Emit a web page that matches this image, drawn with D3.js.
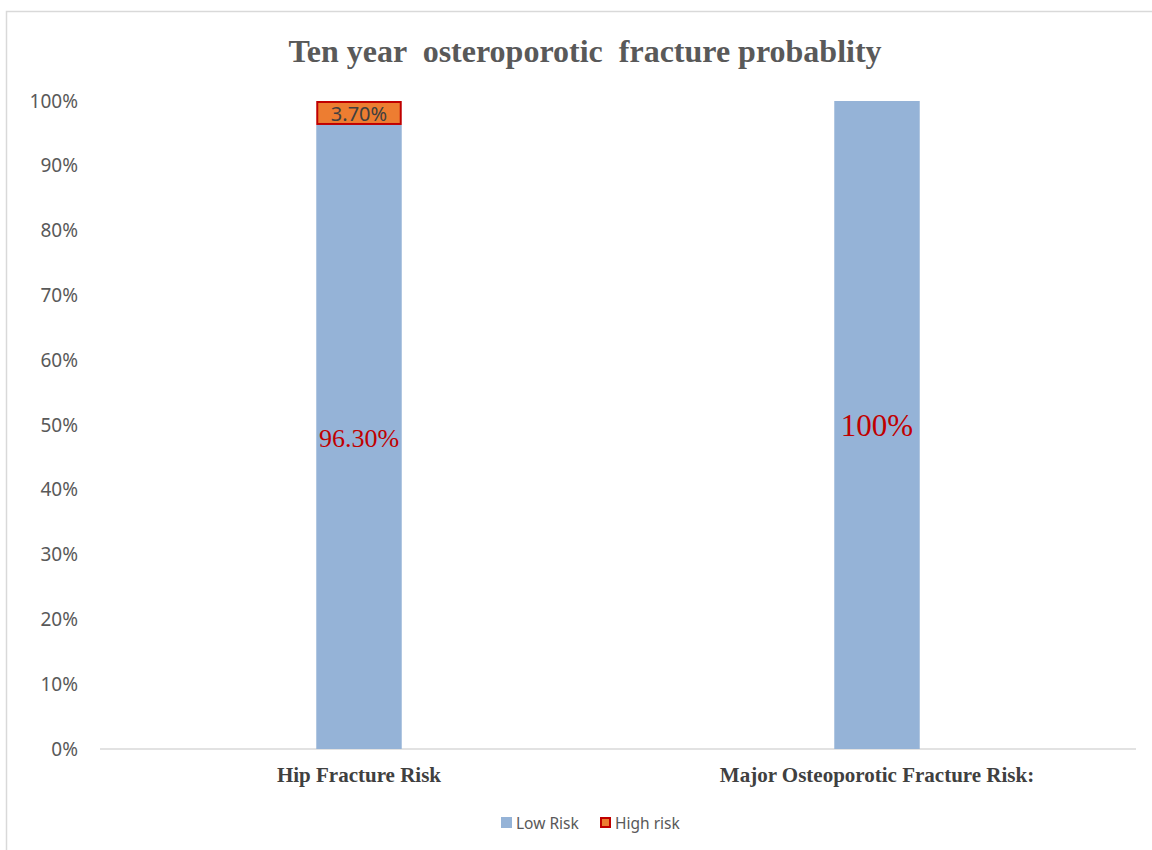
<!DOCTYPE html>
<html>
<head>
<meta charset="utf-8">
<script src="https://cdn.jsdelivr.net/npm/d3@7"></script>
<style>
  html, body { margin: 0; padding: 0; background: #fff; }
  svg { display: block; }
</style>
</head>
<body>
<div id="chart"></div>
<script>
// ── data ───────────────────────────────────────────────
const categories = ['Hip Fracture Risk', 'Major Osteoporotic Fracture Risk:'];
const seriesNames = ['Low Risk', 'High risk'];
const lowRisk  = [96.3, 100];
const highRisk = [3.7, 0];
const lowLabels  = ['96.30%', '100%'];
const highLabels = ['3.70%', ''];
const yTicks = [0, 10, 20, 30, 40, 50, 60, 70, 80, 90, 100];

const W = 1152, H = 850;
const margin = { top: 101, right: 16, bottom: 101, left: 100 };
const width  = W - margin.left - margin.right;
const height = H - margin.top - margin.bottom;

const colors = { low: '#95b3d7', high: '#ed7d31', highStroke: '#c00000' };

const svg = d3.select('#chart').append('svg')
  .attr('width', W).attr('height', H);

// chart border
svg.append('rect')
  .attr('x', 6.5).attr('y', 11.5)
  .attr('width', W + 10).attr('height', H + 10)
  .attr('fill', 'none').attr('stroke', '#d9d9d9').attr('stroke-width', 1.5);

// title
svg.append('text')
  .attr('x', 585).attr('y', 62)
  .attr('text-anchor', 'middle')
  .attr('font-family', '"Liberation Serif", "Times New Roman", serif')
  .attr('font-weight', 'bold')
  .attr('font-size', 32)
  .attr('fill', '#595959')
  .attr('xml:space', 'preserve')
  .text('Ten year  osteroporotic  fracture probablity');

const g = svg.append('g')
  .attr('transform', `translate(${margin.left},${margin.top})`);

// ── scales ─────────────────────────────────────────────
const x = d3.scaleBand().domain(categories).range([0, width]).paddingInner(0).paddingOuter(0);
const y = d3.scaleLinear().domain([0, 100]).range([height, 0]);
const barW = x.bandwidth() * 0.165;

// y axis (labels only)
const yAxis = g.append('g')
  .call(d3.axisLeft(y).tickValues(yTicks).tickFormat(d => d + '%').tickSize(0).tickPadding(22));
yAxis.select('.domain').remove();
yAxis.selectAll('text')
  .attr('font-family', '"Noto Sans", "Open Sans", sans-serif')
  .attr('font-size', 19)
  .attr('fill', '#595959');

// x axis line
g.append('line')
  .attr('x1', 0).attr('x2', width)
  .attr('y1', y(0)).attr('y2', y(0))
  .attr('stroke', '#d9d9d9').attr('stroke-width', 1.5);

// category labels
g.selectAll('.cat')
  .data(categories)
  .enter().append('text')
    .attr('class', 'cat')
    .attr('x', d => x(d) + x.bandwidth() / 2)
    .attr('y', y(0) + 33)
    .attr('text-anchor', 'middle')
    .attr('font-family', '"Liberation Serif", "Times New Roman", serif')
    .attr('font-weight', 'bold')
    .attr('font-size', 21)
    .attr('fill', '#404040')
    .text(d => d);

// ── bars: low risk ─────────────────────────────────────
g.selectAll('.bar-low')
  .data(categories)
  .enter().append('rect')
    .attr('class', 'bar-low')
    .attr('x', d => x(d) + x.bandwidth() / 2 - barW / 2)
    .attr('y', (d, i) => y(lowRisk[i]))
    .attr('width', barW)
    .attr('height', (d, i) => y(0) - y(lowRisk[i]))
    .attr('fill', colors.low);

// ── bars: high risk (stacked) ──────────────────────────
g.selectAll('.bar-high')
  .data(categories.filter((d, i) => highRisk[i] > 0))
  .enter().append('rect')
    .attr('class', 'bar-high')
    .attr('x', d => x(d) + x.bandwidth() / 2 - barW / 2 + 1)
    .attr('y', d => { const i = categories.indexOf(d); return y(lowRisk[i] + highRisk[i]) + 1; })
    .attr('width', barW - 2)
    .attr('height', d => { const i = categories.indexOf(d); return y(lowRisk[i]) - y(lowRisk[i] + highRisk[i]) - 2; })
    .attr('fill', colors.high)
    .attr('stroke', colors.highStroke)
    .attr('stroke-width', 2);

// data labels: low risk
g.selectAll('.lbl-low')
  .data(categories)
  .enter().append('text')
    .attr('class', 'lbl-low')
    .attr('x', d => x(d) + x.bandwidth() / 2)
    .attr('y', (d, i) => (y(0) + y(lowRisk[i])) / 2 + (i === 0 ? 10 : 11))
    .attr('text-anchor', 'middle')
    .attr('font-family', '"Liberation Serif", "Times New Roman", serif')
    .attr('font-size', (d, i) => i === 0 ? 26 : 31)
    .attr('fill', '#c00000')
    .text((d, i) => lowLabels[i]);

// data labels: high risk
g.selectAll('.lbl-high')
  .data(categories.filter((d, i) => highRisk[i] > 0))
  .enter().append('text')
    .attr('class', 'lbl-high')
    .attr('x', d => x(d) + x.bandwidth() / 2)
    .attr('y', d => { const i = categories.indexOf(d); return (y(lowRisk[i]) + y(lowRisk[i] + highRisk[i])) / 2 + 7.5; })
    .attr('text-anchor', 'middle')
    .attr('font-family', '"Noto Sans", "Open Sans", sans-serif')
    .attr('font-size', 20)
    .attr('fill', '#404040')
    .text(d => highLabels[categories.indexOf(d)]);

// ── legend ─────────────────────────────────────────────
const legend = svg.append('g').attr('transform', 'translate(501,817)');
const legX = [0, 99];
seriesNames.forEach((name, i) => {
  const lg = legend.append('g').attr('transform', `translate(${legX[i]},0)`);
  lg.append('rect')
    .attr('x', i === 1 ? 1 : 0).attr('y', i === 1 ? 1 : 0)
    .attr('width', i === 1 ? 9 : 11).attr('height', i === 1 ? 9 : 11)
    .attr('fill', i === 0 ? colors.low : colors.high)
    .attr('stroke', i === 1 ? colors.highStroke : 'none')
    .attr('stroke-width', 2);
  lg.append('text')
    .attr('x', 15).attr('y', 11.5)
    .attr('font-family', '"Noto Sans", "Open Sans", sans-serif')
    .attr('font-size', 15.5)
    .attr('fill', '#595959')
    .text(name);
});
</script>
</body>
</html>
